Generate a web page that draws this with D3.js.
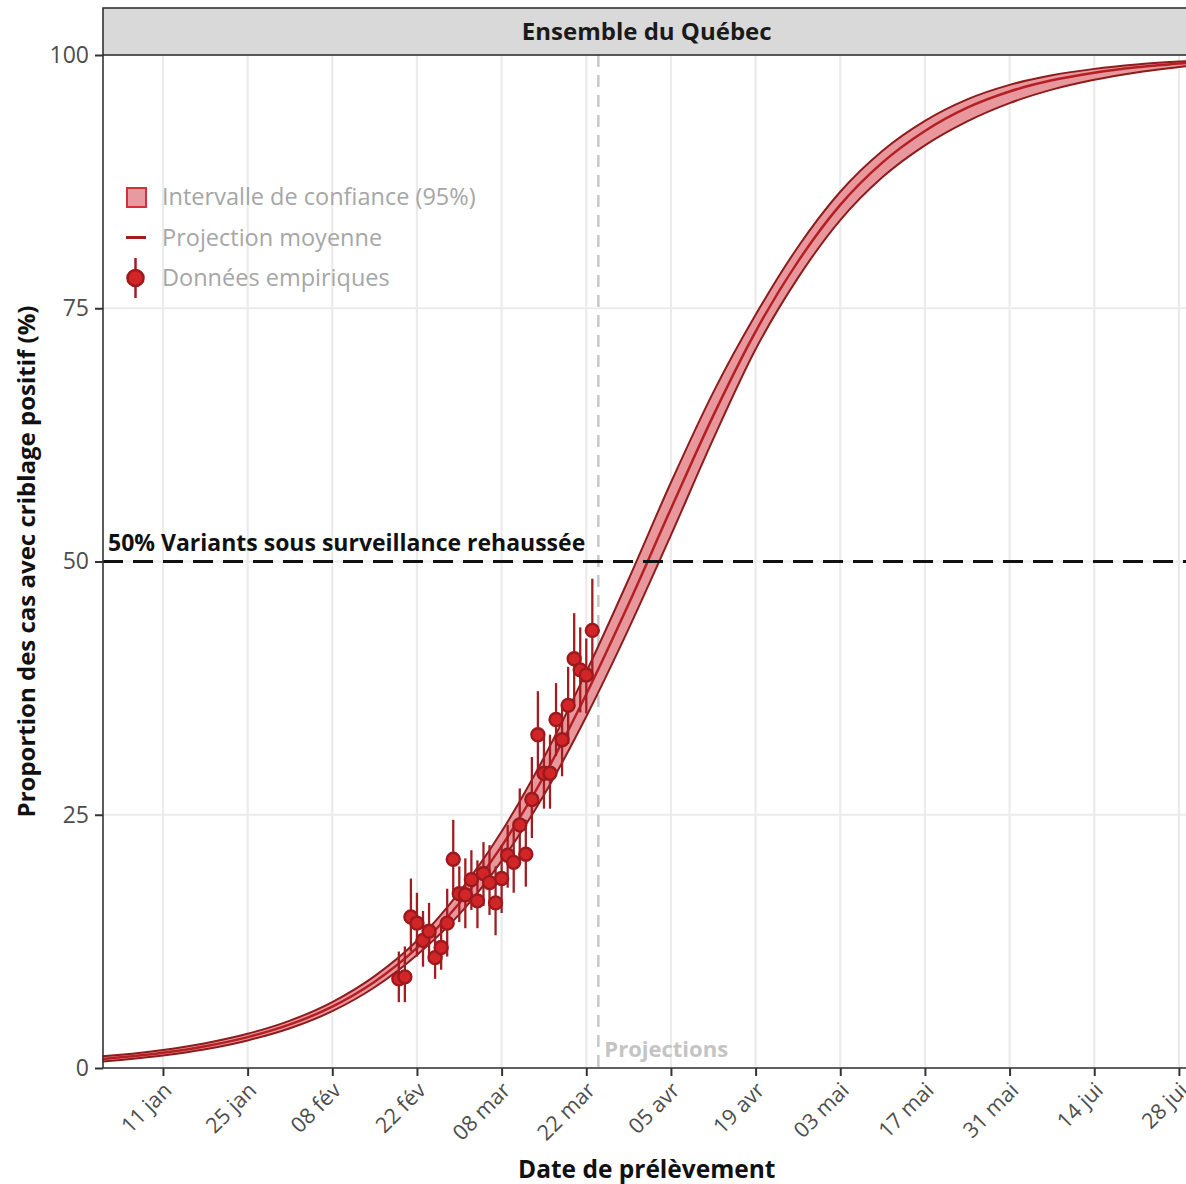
<!DOCTYPE html>
<html>
<head>
<meta charset="utf-8">
<script src="https://cdn.jsdelivr.net/npm/d3@7"></script>
<style>
  body { margin: 0; background: #fff; }
  svg { display: block; font-family: "Open Sans", Lato, sans-serif; }
</style>
</head>
<body>
<div id="chart"></div>
<script>
// projection curve (weekly)
const curveDates = ['2021-01-01','2021-01-04','2021-01-11','2021-01-18','2021-01-25','2021-02-01','2021-02-08',
  '2021-02-15','2021-02-22','2021-03-01','2021-03-08','2021-03-15','2021-03-22','2021-03-29','2021-04-05',
  '2021-04-12','2021-04-19','2021-04-26','2021-05-03','2021-05-10','2021-05-17','2021-05-24','2021-05-31',
  '2021-06-07','2021-06-14','2021-06-21','2021-06-28','2021-06-30'];
const meanVals  = [0.9,1.05,1.5,2.15,3.05,4.3,6.06,8.52,11.86,16.27,21.9,28.8,36.9,45.8,55.2,
  64.4,72.7,79.6,85.2,89.4,92.5,94.8,96.4,97.5,98.25,98.78,99.15,99.25];
const lowerVals = [0.65,0.8,1.23,1.85,2.72,3.92,5.61,7.97,11.16,15.17,20.45,26.95,34.7,43.35,52.6,
  62.1,70.95,78.0,83.7,87.95,91.08,93.45,95.25,96.58,97.55,98.28,98.81,98.95];
const upperVals = [1.15,1.3,1.77,2.45,3.38,4.68,6.51,9.07,12.56,17.37,23.35,30.65,39.1,48.25,57.8,
  66.7,74.35,81.05,86.5,90.55,93.5,95.62,97.05,98.0,98.63,99.06,99.35,99.42];

// observed proportions with 95% intervals
const obsDates = ['2021-02-19','2021-02-20','2021-02-21','2021-02-22','2021-02-23','2021-02-24','2021-02-25',
  '2021-02-26','2021-02-27','2021-02-28','2021-03-01','2021-03-02','2021-03-03','2021-03-04','2021-03-05',
  '2021-03-06','2021-03-07','2021-03-08','2021-03-09','2021-03-10','2021-03-11','2021-03-12','2021-03-13',
  '2021-03-14','2021-03-15','2021-03-16','2021-03-17','2021-03-18','2021-03-19','2021-03-20','2021-03-21',
  '2021-03-22','2021-03-23'];
const obsVals = [8.8,9.0,14.9,14.3,12.6,13.5,10.9,11.9,14.3,20.6,17.2,17.1,18.6,16.5,19.2,18.3,16.3,18.7,21.0,20.3,
  24.0,21.1,26.5,32.9,29.1,29.1,34.4,32.4,35.8,40.4,39.3,38.8,43.2];
const obsLo = [6.5,6.5,11.5,11.0,10.0,10.5,8.8,9.7,11.0,17.0,14.4,13.8,15.6,13.8,16.0,15.1,13.1,15.3,17.8,17.3,
  20.4,17.9,22.7,29.4,25.6,25.6,30.8,28.8,32.0,36.0,35.1,35.0,39.0];
const obsHi = [11.5,12.0,18.7,17.3,15.5,16.3,13.3,14.3,17.7,24.5,19.9,20.7,21.5,20.5,22.3,22.0,19.9,22.0,24.0,23.5,
  27.6,24.5,30.7,37.2,32.9,32.9,38.0,36.0,39.6,44.9,43.5,42.4,48.3];

const tickDates = ['2021-01-11','2021-01-25','2021-02-08','2021-02-22','2021-03-08','2021-03-22','2021-04-05',
  '2021-04-19','2021-05-03','2021-05-17','2021-05-31','2021-06-14','2021-06-28'];
const tickLabels = ['11 jan','25 jan','08 fév','22 fév','08 mar','22 mar','05 avr','19 avr','03 mai','17 mai','31 mai','14 jui','28 jui'];
const yTicks = [0, 25, 50, 75, 100];

const projectionStart = '2021-03-24';
const thresholdValue = 50;
const legendItems = ['Intervalle de confiance (95%)', 'Projection moyenne', 'Données empiriques'];

const W = 1186, H = 1184;
const margin = {t: 55, r: -5, b: 116, l: 103};
const parse = d3.timeParse('%Y-%m-%d');

const svg = d3.select('#chart').append('svg')
  .attr('width', W).attr('height', H);

const x = d3.scaleTime()
  .domain([parse('2021-01-01'), parse('2021-06-30')])
  .range([margin.l - 0.5, W - margin.r]);
const y = d3.scaleLinear().domain([0, 100]).range([H - margin.b, margin.t]);

const curve = curveDates.map((d, i) => ({date: parse(d), mean: meanVals[i], lo: lowerVals[i], hi: upperVals[i]}));
const obs = obsDates.map((d, i) => ({date: parse(d), v: obsVals[i], lo: obsLo[i], hi: obsHi[i]}));

// grid
const grid = svg.append('g');
grid.selectAll('.gx').data(tickDates).enter().append('line')
  .attr('x1', d => x(parse(d))).attr('x2', d => x(parse(d)))
  .attr('y1', y(100)).attr('y2', y(0))
  .attr('stroke', '#ebebeb').attr('stroke-width', 2.2);
grid.selectAll('.gy').data(yTicks).enter().append('line')
  .attr('x1', margin.l).attr('x2', W)
  .attr('y1', d => y(d)).attr('y2', d => y(d))
  .attr('stroke', '#ebebeb').attr('stroke-width', 2.2);

// projection start
svg.append('line')
  .attr('x1', x(parse(projectionStart))).attr('x2', x(parse(projectionStart)))
  .attr('y1', y(100)).attr('y2', y(0))
  .attr('stroke', '#c8c8c8').attr('stroke-width', 2.5)
  .attr('stroke-dasharray', '12,8');
svg.append('text')
  .attr('x', x(parse(projectionStart)) + 6).attr('y', y(0) - 11)
  .attr('fill', '#c4c4c4').attr('font-weight', 700).attr('font-size', 22)
  .text('Projections');

// confidence band
const area = d3.area().x(d => x(d.date)).y0(d => y(d.lo)).y1(d => y(d.hi)).curve(d3.curveMonotoneX);
const lineLo = d3.line().x(d => x(d.date)).y(d => y(d.lo)).curve(d3.curveMonotoneX);
const lineHi = d3.line().x(d => x(d.date)).y(d => y(d.hi)).curve(d3.curveMonotoneX);
const lineMean = d3.line().x(d => x(d.date)).y(d => y(d.mean)).curve(d3.curveMonotoneX);

svg.append('path').datum(curve).attr('d', area).attr('fill', '#e8979d');
svg.append('path').datum(curve).attr('d', lineLo).attr('fill', 'none').attr('stroke', '#8e1c1c').attr('stroke-width', 2);
svg.append('path').datum(curve).attr('d', lineHi).attr('fill', 'none').attr('stroke', '#8e1c1c').attr('stroke-width', 2);
svg.append('path').datum(curve).attr('d', lineMean).attr('fill', 'none').attr('stroke', '#b41f24').attr('stroke-width', 2.5);

// threshold
svg.append('line')
  .attr('x1', margin.l).attr('x2', W)
  .attr('y1', y(thresholdValue)).attr('y2', y(thresholdValue))
  .attr('stroke', '#111').attr('stroke-width', 2.8)
  .attr('stroke-dasharray', '20,10');
svg.append('text')
  .attr('x', 108).attr('y', y(thresholdValue) - 11)
  .attr('fill', '#111').attr('font-weight', 700).attr('font-size', 23)
  .text('50% Variants sous surveillance rehaussée');

// observed points
const pts = svg.append('g');
pts.selectAll('.eb').data(obs).enter().append('line')
  .attr('x1', d => x(d.date)).attr('x2', d => x(d.date))
  .attr('y1', d => y(d.lo)).attr('y2', d => y(d.hi))
  .attr('stroke', '#a01e22').attr('stroke-width', 2.3);
pts.selectAll('circle').data(obs).enter().append('circle')
  .attr('cx', d => x(d.date)).attr('cy', d => y(d.v)).attr('r', 6.5)
  .attr('fill', '#d22528').attr('stroke', '#9c1a1d').attr('stroke-width', 2.4);

// panel border + strip
svg.append('line').attr('x1', margin.l).attr('x2', margin.l).attr('y1', margin.t).attr('y2', y(0))
  .attr('stroke', '#333').attr('stroke-width', 1.6);
svg.append('line').attr('x1', margin.l).attr('x2', W).attr('y1', y(0)).attr('y2', y(0))
  .attr('stroke', '#333').attr('stroke-width', 1.6);
svg.append('rect').attr('x', margin.l).attr('y', 8).attr('width', W - margin.l + 10).attr('height', margin.t - 8)
  .attr('fill', '#d9d9d9').attr('stroke', '#333').attr('stroke-width', 1.6);
svg.append('text')
  .attr('x', (x.range()[0] + x.range()[1]) / 2).attr('y', 40)
  .attr('text-anchor', 'middle').attr('font-weight', 700).attr('font-size', 24).attr('fill', '#1a1a1a')
  .text('Ensemble du Québec');

// axes
const yAxis = svg.append('g').attr('transform', `translate(${margin.l},0)`)
  .call(d3.axisLeft(y).tickValues(yTicks).tickSize(8).tickPadding(6));
yAxis.select('.domain').remove();
yAxis.selectAll('.tick line').attr('stroke', '#333').attr('stroke-width', 2);
yAxis.selectAll('.tick text').attr('fill', '#4d4d4d').attr('font-size', 23)
  .attr('font-family', '"Open Sans", sans-serif');

const xAxis = svg.append('g').attr('transform', `translate(0,${y(0)})`)
  .call(d3.axisBottom(x).tickValues(tickDates.map(parse)).tickSize(8).tickFormat((d, i) => tickLabels[i]));
xAxis.select('.domain').remove();
xAxis.selectAll('.tick line').attr('stroke', '#333').attr('stroke-width', 2);
xAxis.selectAll('.tick text')
  .attr('fill', '#4d4d4d').attr('font-size', 21.5).attr('font-family', '"Open Sans", sans-serif')
  .attr('text-anchor', 'end')
  .attr('transform', 'translate(-1,13) rotate(-45)')
  .attr('dy', '0.7em').attr('y', 0);

// axis titles
svg.append('text')
  .attr('x', (x.range()[0] + x.range()[1]) / 2).attr('y', 1178)
  .attr('text-anchor', 'middle').attr('font-weight', 700).attr('font-size', 24.5).attr('fill', '#111')
  .text('Date de prélèvement');
svg.append('text')
  .attr('transform', `translate(35,${y(50)}) rotate(-90)`)
  .attr('text-anchor', 'middle').attr('font-weight', 700).attr('font-size', 24).attr('fill', '#111')
  .text('Proportion des cas avec criblage positif (%)');

// legend
const lg = svg.append('g').attr('transform', 'translate(126,197)');
const rowH = 40.5;
lg.append('rect').attr('x', 1).attr('y', -9).attr('width', 19).attr('height', 19)
  .attr('fill', '#e89aa0').attr('stroke', '#d23236').attr('stroke-width', 2);
lg.append('line').attr('x1', 0).attr('x2', 20).attr('y1', rowH).attr('y2', rowH)
  .attr('stroke', '#a31c20').attr('stroke-width', 3);
lg.append('line').attr('x1', 9.5).attr('x2', 9.5).attr('y1', rowH * 2 - 20).attr('y2', rowH * 2 + 20)
  .attr('stroke', '#a01e22').attr('stroke-width', 2.5);
lg.append('circle').attr('cx', 9.5).attr('cy', rowH * 2).attr('r', 8)
  .attr('fill', '#d22528').attr('stroke', '#9c1a1d').attr('stroke-width', 2.6);
lg.selectAll('.lt').data(legendItems).enter().append('text')
  .attr('x', 36).attr('y', (d, i) => i * rowH).attr('dy', '0.35em')
  .attr('fill', '#a6a6a6').attr('font-size', 23.5)
  .text(d => d);
</script>
</body>
</html>
